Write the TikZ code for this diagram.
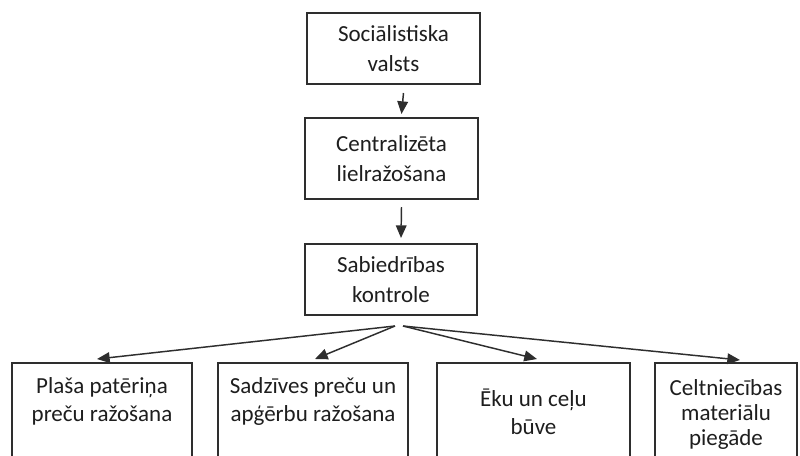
\documentclass[tikz,border=0pt]{standalone}
\usepackage{fontspec}
\setmainfont{Carlito}
\usetikzlibrary{arrows.meta}
\definecolor{ink}{HTML}{1E1E1E}
\definecolor{edge}{HTML}{2E2E2E}
\begin{document}
\begin{tikzpicture}[x=0.75pt,y=-0.75pt,
  box/.style={draw=edge,line width=1.2pt,inner sep=0pt,outer sep=0pt,align=center,text=ink,
    font=\fontsize{17.25}{22.5}\selectfont},
  lbl/.style={inner sep=0pt,align=center,text=ink},
  arr/.style={draw=edge,line width=1.1pt,-{Triangle[length=9.5pt,width=8pt]}}]
\clip (0,0) rectangle (800,455);
\fill[white] (0,0) rectangle (800,455);
% top chain
\node[box,minimum width=129.75pt,minimum height=53.25pt] (s) at (393.5,48.5) {Sociālistiska\\valsts};
\node[box,minimum width=129.75pt,minimum height=60.75pt] (c) at (391.5,158.5) {Centralizēta\\lielražošana};
\node[box,minimum width=129pt,minimum height=53.25pt] (k) at (391,279.5) {Sabiedrības\\kontrole};
% bottom row boxes
\node[box,minimum width=135pt,minimum height=87.75pt] (b1) at (102,421.5) {};
\node[box,minimum width=142.5pt,minimum height=87.75pt] (b2) at (313,421.5) {};
\node[box,minimum width=144.75pt,minimum height=87.75pt] (b3) at (533.5,421.5) {};
\node[box,minimum width=106.5pt,minimum height=87.75pt] (b4) at (726,421.5) {};
% bottom texts
\node[lbl,font=\fontsize{17.25}{21}\selectfont] (t1) at (102,401) {Plaša patēriņa\\preču ražošana};
\node[lbl,font=\fontsize{17.25}{21}\selectfont] (t2) at (313,401) {Sadzīves preču un\\apģērbu ražošana};
\node[lbl,font=\fontsize{17.25}{21}\selectfont] (t3) at (533.5,412) {Ēku un ceļu\\būve};
\node[lbl,font=\fontsize{17.25}{18.75}\selectfont] (t4) at (726,414.5) {Celtniecības\\materiālu\\piegāde};
% connectors
\draw[arr] ([xshift=7.5pt,yshift=-6.75pt]s.south) -- ([xshift=7.5pt,yshift=3pt]c.north);
\draw[arr] ([xshift=7.5pt,yshift=-6pt]c.south) -- ([xshift=7.5pt,yshift=4.5pt]k.north);
\coordinate (srcL) at (395,326);
\coordinate (srcR) at (403,326);
\draw[arr] (srcL) -- ([xshift=-3.75pt,yshift=3pt]b1.north);
\draw[arr] (srcL) -- ([xshift=1.5pt,yshift=3pt]b2.north);
\draw[arr] (srcR) -- ([xshift=2.6pt,yshift=3pt]b3.north);
\draw[arr] (srcR) -- ([xshift=10.5pt,yshift=2.25pt]b4.north);
\end{tikzpicture}
\end{document}
